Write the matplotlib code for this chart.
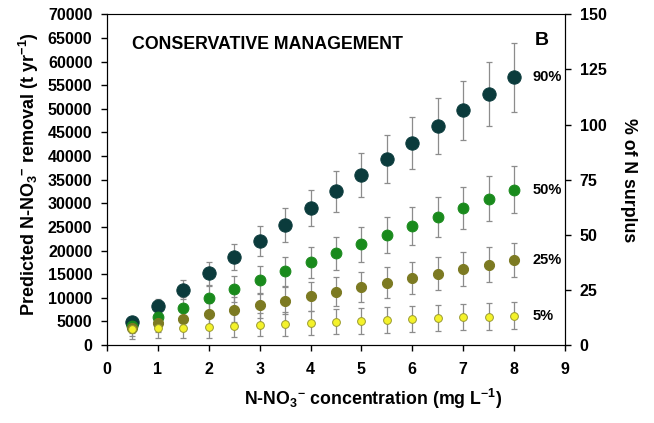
import matplotlib.pyplot as plt
import numpy as np

plt.rcParams['font.family'] = ['Liberation Sans', 'DejaVu Sans']
plt.rcParams['font.weight'] = 'bold'
plt.rcParams['mathtext.fontset'] = 'custom'
plt.rcParams['mathtext.rm'] = 'Liberation Sans:bold'
plt.rcParams['mathtext.bf'] = 'Liberation Sans:bold'
plt.rcParams['mathtext.default'] = 'bf'

# N-NO3 concentration (mg/L)
conc = [0.5, 1, 1.5, 2, 2.5, 3, 3.5, 4, 4.5, 5, 5.5, 6, 6.5, 7, 7.5, 8]

# predicted removal (t/yr) for each removal scenario, with error
rem_90 = [4800, 8200, 11700, 15200, 18600, 22100, 25500, 29000,
          32500, 36000, 39300, 42800, 46300, 49700, 53200, 56700]
err_90 = [1200, 1500, 2000, 2400, 2800, 3200, 3600, 3900,
          4300, 4700, 5100, 5500, 5900, 6300, 6800, 7300]
rem_50 = [4000, 6000, 7900, 9900, 11800, 13700, 15600, 17500,
          19400, 21300, 23300, 25200, 27100, 29000, 31000, 32900]
err_50 = [1500, 2000, 2300, 2600, 2800, 3000, 3100, 3300,
          3500, 3700, 3900, 4100, 4300, 4500, 4700, 5000]
rem_25 = [3700, 4700, 5600, 6500, 7500, 8400, 9400, 10300,
          11300, 12200, 13200, 14100, 15100, 16100, 17000, 18000]
err_25 = [1800, 2000, 2200, 2400, 2600, 2700, 2800, 3000,
          3100, 3200, 3300, 3400, 3500, 3600, 3700, 3700]
rem_5 = [3300, 3500, 3700, 3900, 4100, 4300, 4500, 4700,
         4900, 5100, 5300, 5500, 5700, 5900, 6000, 6200]
err_5 = [2000, 2100, 2200, 2350, 2400, 2500, 2550, 2600,
         2650, 2700, 2700, 2750, 2750, 2800, 2800, 2800]

labels = ['90%', '50%', '25%', '5%']
colores = ['#0b3b3c', '#198a1c', '#7c7a22', '#f4f22a']
bordes = ['#0b3b3c', '#198a1c', '#7c7a22', '#9a9a30']
tamanos = [9.6, 7.8, 7.3, 5.6]
series = [(rem_90, err_90), (rem_50, err_50), (rem_25, err_25), (rem_5, err_5)]

fig = plt.figure(figsize=(6.54, 4.23), dpi=100)
ax = fig.add_axes([0.1636, 0.1844, 0.7003, 0.7816])

for (y, e), c, b, ms, lab in zip(series, colores, bordes, tamanos, labels):
    ax.errorbar(conc, y, yerr=e, fmt='none', ecolor='#8c8c8c', elinewidth=0.9,
                capsize=2.5, capthick=0.9, zorder=2)
    ax.plot(conc, y, 'o', color=c, markeredgecolor=b, markersize=ms,
            markeredgewidth=0.7, zorder=3)
    ax.text(8.37, y[-1], lab, fontsize=10.5, fontweight='bold',
            va='center', ha='left')

ax.set_xlim(0, 9)
ax.set_ylim(0, 70000)
ax.set_xticks(range(10))
ax.set_yticks(np.arange(0, 70001, 5000))
ax.tick_params(direction='out', length=4.5, width=1, labelsize=11.5)
ax.tick_params(axis='y', pad=6)
ax.tick_params(axis='x', pad=8)
for t in ax.get_xticklabels() + ax.get_yticklabels():
    t.set_fontweight('bold')
ax.spines['top'].set_color('#999999')

ax.set_xlabel('N-NO$_3$$^{-}$ concentration (mg L$^{-1}$)',
              fontsize=12.8, fontweight='bold', labelpad=7)
ax.xaxis.label.set_x(0.58)
ax.set_ylabel('Predicted N-NO$_3$$^{-}$ removal (t yr$^{-1}$)',
              fontsize=13, fontweight='bold', labelpad=5)
ax.yaxis.label.set_y(0.517)

ax.text(0.055, 0.91, 'CONSERVATIVE MANAGEMENT', transform=ax.transAxes,
        fontsize=12.8, fontweight='bold', va='center')
ax.text(0.95, 0.922, 'B', transform=ax.transAxes,
        fontsize=14, fontweight='bold', va='center', ha='center')

ax2 = ax.twinx()
ax2.set_ylim(0, 150)
ax2.set_yticks(range(0, 151, 25))
ax2.tick_params(direction='out', length=4.5, width=1, labelsize=11.5, pad=6)
for t in ax2.get_yticklabels():
    t.set_fontweight('bold')
ax2.set_ylabel('% of N surplus', fontsize=12.8, fontweight='bold',
               rotation=270, labelpad=22)

plt.savefig('out.png', dpi=100)
